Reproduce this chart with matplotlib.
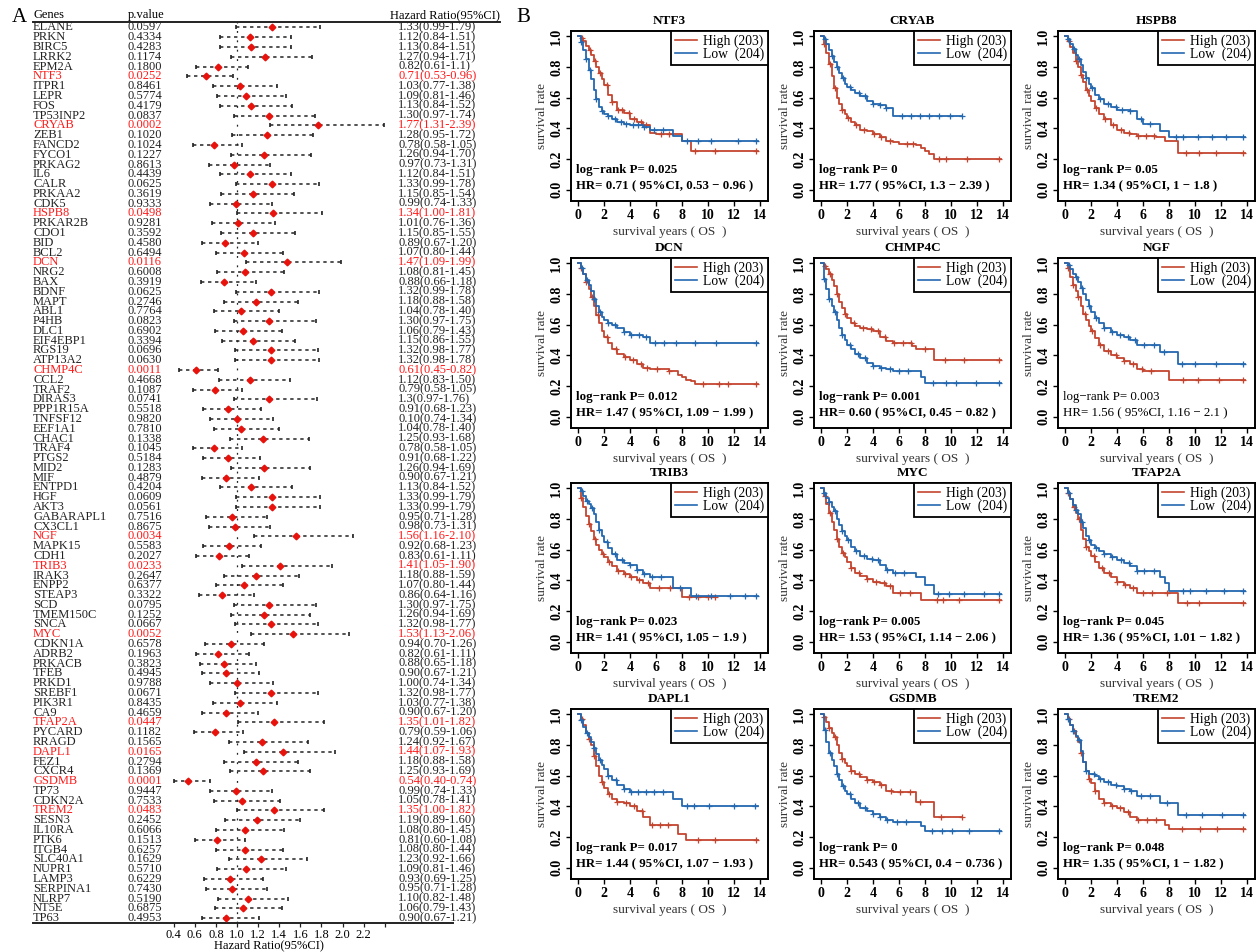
import numpy as np
import matplotlib
matplotlib.use('Agg')
import matplotlib.pyplot as plt
import matplotlib.transforms as mtransforms

plt.rcParams['font.family'] = ['Liberation Serif', 'DejaVu Serif']

# ---------------- panel A : univariate cox table ----------------
genes = ['ELANE', 'PRKN', 'BIRC5', 'LRRK2', 'EPM2A', 'NTF3', 'ITPR1', 'LEPR', 'FOS', 'TP53INP2',
         'CRYAB', 'ZEB1', 'FANCD2', 'FYCO1', 'PRKAG2', 'IL6', 'CALR', 'PRKAA2', 'CDK5', 'HSPB8',
         'PRKAR2B', 'CDO1', 'BID', 'BCL2', 'DCN', 'NRG2', 'BAX', 'BDNF', 'MAPT', 'ABL1',
         'P4HB', 'DLC1', 'EIF4EBP1', 'RGS19', 'ATP13A2', 'CHMP4C', 'CCL2', 'TRAF2', 'DIRAS3', 'PPP1R15A',
         'TNFSF12', 'EEF1A1', 'CHAC1', 'TRAF4', 'PTGS2', 'MID2', 'MIF', 'ENTPD1', 'HGF', 'AKT3',
         'GABARAPL1', 'CX3CL1', 'NGF', 'MAPK15', 'CDH1', 'TRIB3', 'IRAK3', 'ENPP2', 'STEAP3', 'SCD',
         'TMEM150C', 'SNCA', 'MYC', 'CDKN1A', 'ADRB2', 'PRKACB', 'TFEB', 'PRKD1', 'SREBF1', 'PIK3R1',
         'CA9', 'TFAP2A', 'PYCARD', 'RRAGD', 'DAPL1', 'FEZ1', 'CXCR4', 'GSDMB', 'TP73', 'CDKN2A',
         'TREM2', 'SESN3', 'IL10RA', 'PTK6', 'ITGB4', 'SLC40A1', 'NUPR1', 'LAMP3', 'SERPINA1', 'NLRP7',
         'NT5E', 'TP63']

p_values = ['0.0597', '0.4334', '0.4283', '0.1174', '0.1800', '0.0252', '0.8461', '0.5774', '0.4179', '0.0837',
            '0.0002', '0.1020', '0.1024', '0.1227', '0.8613', '0.4439', '0.0625', '0.3619', '0.9333', '0.0498',
            '0.9281', '0.3592', '0.4580', '0.6494', '0.0116', '0.6008', '0.3919', '0.0625', '0.2746', '0.7764',
            '0.0823', '0.6902', '0.3394', '0.0696', '0.0630', '0.0011', '0.4668', '0.1087', '0.0741', '0.5518',
            '0.9820', '0.7810', '0.1338', '0.1045', '0.5184', '0.1283', '0.4879', '0.4204', '0.0609', '0.0561',
            '0.7516', '0.8675', '0.0034', '0.5583', '0.2027', '0.0233', '0.2647', '0.6377', '0.3322', '0.0795',
            '0.1252', '0.0667', '0.0052', '0.6578', '0.1963', '0.3823', '0.4945', '0.9788', '0.0671', '0.8435',
            '0.4659', '0.0447', '0.1182', '0.1565', '0.0165', '0.2794', '0.1369', '0.0001', '0.9447', '0.7533',
            '0.0483', '0.2452', '0.6066', '0.1513', '0.6257', '0.1629', '0.5710', '0.6229', '0.7430', '0.5190',
            '0.6875', '0.4953']

hr = [1.33, 1.12, 1.13, 1.27, 0.82, 0.71, 1.03, 1.09, 1.13, 1.30,
      1.77, 1.28, 0.78, 1.26, 0.97, 1.12, 1.33, 1.15, 0.99, 1.34,
      1.01, 1.15, 0.89, 1.07, 1.47, 1.08, 0.88, 1.32, 1.18, 1.04,
      1.30, 1.06, 1.15, 1.32, 1.32, 0.61, 1.12, 0.79, 1.30, 0.91,
      1.00, 1.04, 1.25, 0.78, 0.91, 1.26, 0.90, 1.13, 1.33, 1.33,
      0.95, 0.98, 1.56, 0.92, 0.83, 1.41, 1.18, 1.07, 0.86, 1.30,
      1.26, 1.32, 1.53, 0.94, 0.82, 0.88, 0.90, 1.00, 1.32, 1.03,
      0.90, 1.35, 0.79, 1.24, 1.44, 1.18, 1.25, 0.54, 0.99, 1.05,
      1.35, 1.19, 1.08, 0.81, 1.08, 1.23, 1.09, 0.93, 0.95, 1.10,
      1.06, 0.90]

ci_low = [0.99, 0.84, 0.84, 0.94, 0.61, 0.53, 0.77, 0.81, 0.84, 0.97,
          1.31, 0.95, 0.58, 0.94, 0.73, 0.84, 0.99, 0.85, 0.74, 1.00,
          0.76, 0.85, 0.67, 0.80, 1.09, 0.81, 0.66, 0.99, 0.88, 0.78,
          0.97, 0.79, 0.86, 0.98, 0.98, 0.45, 0.83, 0.58, 0.97, 0.68,
          0.74, 0.78, 0.93, 0.58, 0.68, 0.94, 0.67, 0.84, 0.99, 0.99,
          0.71, 0.73, 1.16, 0.68, 0.61, 1.05, 0.88, 0.80, 0.64, 0.97,
          0.94, 0.98, 1.13, 0.70, 0.61, 0.65, 0.67, 0.74, 0.98, 0.77,
          0.67, 1.01, 0.59, 0.92, 1.07, 0.88, 0.93, 0.40, 0.74, 0.78,
          1.00, 0.89, 0.80, 0.60, 0.80, 0.92, 0.81, 0.69, 0.71, 0.82,
          0.79, 0.67]

ci_high = [1.79, 1.51, 1.51, 1.71, 1.10, 0.96, 1.38, 1.46, 1.52, 1.74,
           2.39, 1.72, 1.05, 1.70, 1.31, 1.51, 1.78, 1.54, 1.33, 1.81,
           1.36, 1.55, 1.20, 1.44, 1.99, 1.45, 1.18, 1.78, 1.58, 1.40,
           1.75, 1.43, 1.55, 1.77, 1.78, 0.82, 1.50, 1.05, 1.76, 1.23,
           1.34, 1.40, 1.68, 1.05, 1.22, 1.69, 1.21, 1.52, 1.79, 1.79,
           1.28, 1.31, 2.10, 1.23, 1.11, 1.90, 1.59, 1.44, 1.16, 1.75,
           1.69, 1.77, 2.06, 1.26, 1.11, 1.18, 1.21, 1.34, 1.77, 1.38,
           1.20, 1.82, 1.06, 1.67, 1.93, 1.58, 1.69, 0.74, 1.33, 1.41,
           1.82, 1.60, 1.45, 1.08, 1.44, 1.66, 1.46, 1.25, 1.28, 1.48,
           1.43, 1.21]

# labels printed differently from the default format in the original table
hr_text_exceptions = {'EPM2A': '0.82(0.61-1.1)', 'DIRAS3': '1.3(0.97-1.76)',
                      'TNFSF12': '0.10(0.74-1.34)'}

forest_ticks = [0.4, 0.6, 0.8, 1.0, 1.2, 1.4, 1.6, 1.8, 2.0, 2.2, 2.4]
forest_ticklabels = ['0.4', '0.6', '0.8', '1.0', '1.2', '1.4', '1.6', '1.8', '2.0', '2.2', '']

# ---------------- panel B : Kaplan-Meier curves ----------------
km_genes = ['NTF3', 'CRYAB', 'HSPB8', 'DCN', 'CHMP4C', 'NGF',
            'TRIB3', 'MYC', 'TFAP2A', 'DAPL1', 'GSDMB', 'TREM2']
km_logrank = ['0.025', '0', '0.05', '0.012', '0.001', '0.003',
              '0.023', '0.005', '0.045', '0.017', '0', '0.048']
km_hr = ['0.71 ( 95%CI, 0.53 \u2212 0.96 )', '1.77 ( 95%CI, 1.3 \u2212 2.39 )',
         '1.34 ( 95%CI, 1 \u2212 1.8 )', '1.47 ( 95%CI, 1.09 \u2212 1.99 )',
         '0.60 ( 95%CI, 0.45 \u2212 0.82 )', '1.56 ( 95%CI, 1.16 \u2212 2.1 )',
         '1.41 ( 95%CI, 1.05 \u2212 1.9 )', '1.53 ( 95%CI, 1.14 \u2212 2.06 )',
         '1.36 ( 95%CI, 1.01 \u2212 1.82 )', '1.44 ( 95%CI, 1.07 \u2212 1.93 )',
         '0.543 ( 95%CI, 0.4 \u2212 0.736 )', '1.35 ( 95%CI, 1 \u2212 1.82 )']
km_bold_text = [True, True, True, True, True, False, True, True, True, True, True, True]

# survival read at these times (years), step holds until next time
km_time = [0, 0.2, 0.4, 0.6, 0.8, 1.0, 1.2, 1.4, 1.6, 1.8, 2.0, 2.3, 2.6, 3.0, 3.5,
           4.0, 4.5, 5.0, 5.5, 6.0, 7.0, 7.3, 7.7, 8.0, 8.3, 8.7, 9.0, 10.5, 10.8, 13.8]
nan = float('nan')

km_high = {
    'NTF3':   [1.0, .99, .97, .94, .91, .88, .84, .80, .76, .72, .68, .62, .57, .52, .50,
               .46, .44, .42, .37, .36, .36, .36, .36, .32, .32, .25, .25, .25, .25, .25],
    'CRYAB':  [1.0, .95, .89, .82, .74, .66, .60, .56, .52, .49, .47, .44, .42, .39, .38,
               .36, .34, .32, .31, .30, .30, .29, .27, .25, .23, .20, .20, .20, .20, .20],
    'HSPB8':  [1.0, .97, .93, .89, .84, .80, .75, .70, .65, .61, .58, .53, .49, .46, .42,
               .39, .37, .36, .35, .35, .34, .34, .32, .32, .32, .24, .24, .24, .24, .24],
    'DCN':    [1.0, .97, .93, .88, .83, .78, .72, .66, .61, .56, .52, .48, .44, .41, .39,
               .37, .34, .32, .31, .31, .30, .30, .27, .26, .24, .23, .21, .21, .21, .21],
    'CHMP4C': [1.0, .98, .96, .93, .89, .85, .80, .75, .71, .67, .64, .61, .59, .58, .57,
               .56, .52, .49, .48, .48, .46, .44, .44, .44, .44, .37, .37, .37, .37, .37],
    'NGF':    [1.0, .97, .91, .86, .82, .78, .72, .67, .63, .59, .56, .51, .47, .43, .40,
               .38, .36, .34, .31, .30, .30, .30, .30, .24, .24, .24, .24, .24, .24, .24],
    'TRIB3':  [1.0, .94, .88, .82, .77, .72, .67, .63, .60, .57, .55, .52, .49, .46, .44,
               .42, .40, .38, .35, .35, .35, .35, .35, .29, .29, .29, .29, .29, nan, nan],
    'MYC':    [1.0, .95, .90, .84, .78, .73, .67, .62, .58, .55, .52, .48, .45, .43, .41,
               .39, .38, .36, .32, .32, .32, .32, .27, .27, .27, .27, .27, .27, .27, .27],
    'TFAP2A': [1.0, .97, .93, .88, .84, .80, .73, .67, .62, .59, .56, .52, .48, .45, .42,
               .39, .37, .35, .32, .32, .32, .32, .32, .32, .32, .25, .25, .25, .25, .25],
    'DAPL1':  [1.0, .97, .93, .88, .84, .80, .73, .66, .60, .56, .52, .48, .45, .43, .42,
               .40, .37, .33, .28, .28, .28, .28, .22, .22, .18, .18, .18, .18, .18, .18],
    'GSDMB':  [1.0, .98, .95, .91, .88, .85, .80, .75, .71, .68, .66, .63, .61, .59, .57,
               .56, .54, .50, .49, .49, .49, .43, .43, .43, .43, .33, .33, .33, .33, nan],
    'TREM2':  [1.0, .97, .93, .89, .85, .82, .75, .69, .63, .58, .55, .50, .45, .42, .40,
               .39, .36, .33, .31, .31, .31, .31, .28, .25, .25, .25, .25, .25, .25, .25],
}

km_low = {
    'NTF3':   [1.0, .96, .91, .85, .78, .72, .65, .59, .54, .51, .49, .48, .46, .44, .43,
               .42, .42, .41, .39, .39, .39, .35, .35, .32, .32, .32, .32, .32, .32, .32],
    'CRYAB':  [1.0, .98, .95, .91, .87, .83, .80, .76, .73, .69, .67, .65, .63, .61, .58,
               .56, .55, .53, .48, .48, .48, .48, .48, .48, .48, .48, .48, .48, .48, nan],
    'HSPB8':  [1.0, .98, .95, .92, .88, .85, .81, .77, .73, .69, .66, .62, .59, .56, .54,
               .52, .52, .51, .46, .43, .43, .38, .38, .34, .34, .34, .34, .34, .34, .34],
    'DCN':    [1.0, .97, .93, .89, .86, .82, .77, .72, .68, .65, .63, .61, .60, .58, .55,
               .53, .53, .52, .48, .48, .48, .48, .48, .48, .48, .48, .48, .48, .48, .48],
    'CHMP4C': [1.0, .90, .83, .77, .72, .68, .63, .58, .53, .50, .47, .44, .41, .38, .35,
               .33, .32, .31, .30, .30, .30, .30, .26, .22, .22, .22, .22, .22, .22, .22],
    'NGF':    [1.0, .99, .96, .93, .91, .88, .84, .80, .76, .72, .68, .64, .61, .58, .55,
               .53, .52, .50, .47, .47, .47, .42, .42, .42, .42, .34, .34, .34, .34, .34],
    'TRIB3':  [1.0, .98, .95, .92, .90, .87, .83, .78, .73, .69, .65, .61, .57, .53, .51,
               .50, .47, .44, .42, .42, .42, .35, .35, .35, .35, .30, .30, .30, .30, .30],
    'MYC':    [1.0, .97, .94, .91, .88, .85, .80, .76, .72, .69, .66, .62, .59, .56, .54,
               .53, .50, .47, .45, .45, .45, .42, .42, .37, .37, .31, .31, .31, .31, .31],
    'TFAP2A': [1.0, .97, .93, .89, .86, .83, .78, .74, .69, .66, .63, .61, .59, .57, .55,
               .53, .51, .49, .46, .46, .46, .42, .38, .33, .33, .33, .33, .33, .33, .33],
    'DAPL1':  [1.0, .96, .92, .88, .85, .82, .78, .74, .70, .67, .64, .60, .57, .54, .51,
               .49, .49, .49, .49, .49, .49, .45, .45, .40, .40, .40, .40, .40, .40, .40],
    'GSDMB':  [1.0, .90, .82, .75, .70, .66, .61, .57, .53, .50, .48, .45, .42, .39, .37,
               .35, .33, .31, .30, .30, .30, .30, .27, .24, .24, .24, .24, .24, .24, .24],
    'TREM2':  [1.0, .97, .93, .89, .86, .83, .76, .69, .63, .61, .61, .60, .58, .56, .54,
               .53, .51, .50, .47, .47, .47, .42, .42, .42, .42, .34, .34, .34, .34, .34],
}

# censored follow-up times (years) drawn as "+"
censor_high = {
    'NTF3':   [0.3, 0.9, 1.3, 1.7, 2.2, 2.6, 3.1, 3.4, 3.9, 4.3, 4.8, 5.2, 6.4, 7.0, 9.0, 10.5, 13.7],
    'CRYAB':  [0.2, 0.7, 1.1, 1.6, 2.1, 2.7, 3.3, 4.1, 4.6, 5.3, 6.6, 7.1, 9.1, 9.6, 11.2, 13.7],
    'HSPB8':  [0.3, 0.8, 1.2, 1.7, 2.4, 3.1, 3.7, 4.3, 4.9, 5.6, 6.2, 6.8, 9.3, 10.3, 11.6, 13.7],
    'DCN':    [0.2, 0.6, 1.1, 1.5, 2.2, 2.9, 3.6, 4.2, 4.8, 5.3, 6.1, 7.0, 9.6, 10.8, 11.5, 13.7],
    'CHMP4C': [0.3, 0.7, 1.2, 1.8, 2.5, 3.2, 3.8, 4.4, 4.9, 5.6, 6.3, 6.9, 8.0, 9.5, 11.0, 13.7],
    'NGF':    [0.2, 0.6, 1.0, 1.5, 2.1, 2.7, 3.3, 3.9, 4.5, 5.2, 5.9, 6.6, 9.1, 10.2, 11.8, 13.7],
    'TRIB3':  [0.2, 0.8, 1.3, 1.9, 2.4, 3.1, 3.6, 4.1, 4.7, 5.4, 6.2, 7.1, 8.5, 9.2, 10.0, 10.5],
    'MYC':    [0.3, 0.7, 1.2, 1.7, 2.3, 2.9, 3.5, 4.2, 4.8, 5.3, 6.1, 6.8, 8.9, 9.4, 10.6, 13.7],
    'TFAP2A': [0.2, 0.7, 1.1, 1.6, 2.2, 2.8, 3.4, 4.0, 4.6, 5.2, 6.0, 6.7, 7.8, 9.4, 10.3, 13.7],
    'DAPL1':  [0.3, 0.8, 1.2, 1.8, 2.4, 3.0, 3.7, 4.3, 4.9, 5.7, 6.3, 6.9, 9.2, 10.5, 13.7],
    'GSDMB':  [0.2, 0.6, 1.1, 1.6, 2.3, 2.9, 3.5, 4.1, 4.6, 5.4, 6.1, 6.8, 7.6, 9.2, 10.8],
    'TREM2':  [0.3, 0.7, 1.2, 1.8, 2.3, 3.0, 3.6, 4.2, 4.8, 5.6, 6.3, 7.0, 9.0, 10.4, 11.7, 13.7],
}

censor_low = {
    'NTF3':   [0.2, 0.6, 0.9, 1.4, 1.8, 2.3, 2.8, 3.3, 3.7, 4.2, 4.6, 5.1, 5.8, 6.5, 8.4, 9.2, 10.2, 12.3, 13.7],
    'CRYAB':  [0.3, 0.8, 1.2, 1.7, 2.2, 2.9, 3.4, 4.0, 4.5, 5.0, 6.2, 6.9, 7.6, 8.3, 9.1, 9.9, 10.8],
    'HSPB8':  [0.2, 0.7, 1.1, 1.6, 2.1, 2.7, 3.3, 3.9, 4.4, 5.0, 5.8, 6.5, 8.5, 9.1, 10.2, 11.3, 12.4, 13.7],
    'DCN':    [0.3, 0.7, 1.2, 1.7, 2.3, 2.8, 3.5, 4.1, 4.7, 5.2, 5.9, 6.6, 7.5, 9.0, 10.6, 13.7],
    'CHMP4C': [0.2, 0.6, 1.1, 1.6, 2.2, 2.8, 3.4, 4.0, 4.6, 5.3, 6.0, 6.7, 8.6, 9.6, 10.4, 11.9, 13.7],
    'NGF':    [0.3, 0.8, 1.3, 1.8, 2.4, 3.0, 3.6, 4.2, 4.8, 5.4, 6.1, 6.8, 7.6, 9.0, 10.0, 11.6, 13.7],
    'TRIB3':  [0.3, 0.7, 1.1, 1.6, 2.2, 2.8, 3.4, 4.0, 4.5, 5.1, 5.7, 6.4, 7.8, 9.1, 10.2, 11.7, 12.8, 13.7],
    'MYC':    [0.2, 0.6, 1.1, 1.6, 2.1, 2.7, 3.3, 3.9, 4.4, 5.1, 5.7, 6.4, 9.0, 9.8, 11.0, 12.5, 13.7],
    'TFAP2A': [0.3, 0.8, 1.3, 1.8, 2.4, 3.0, 3.6, 4.3, 4.9, 5.5, 6.1, 6.8, 9.1, 9.6, 10.8, 12.2, 13.7],
    'DAPL1':  [0.2, 0.7, 1.2, 1.7, 2.3, 2.9, 3.5, 4.1, 4.6, 5.2, 5.8, 6.5, 8.4, 8.9, 10.1, 12.0, 13.6],
    'GSDMB':  [0.3, 0.7, 1.2, 1.7, 2.2, 2.8, 3.4, 4.0, 4.5, 5.1, 5.8, 6.5, 8.5, 9.3, 10.1, 11.4, 13.7],
    'TREM2':  [0.2, 0.6, 1.1, 1.6, 2.2, 2.7, 3.3, 3.9, 4.5, 5.1, 5.8, 6.5, 7.8, 9.3, 10.5, 12.1, 13.7],
}

RED_TXT = '#ff1a1a'
KM_RED = '#c4452f'
KM_BLUE = '#2468b0'

W, H = 1259, 952
fig = plt.figure(figsize=(W / 100, H / 100), dpi=100)


def px_axes(left, top, width, height):
    return fig.add_axes([left / W, 1 - (top + height) / H, width / W, height / H])


# ---------------- draw panel A ----------------
n = len(genes)
axA = px_axes(33, 22, 467, 901)
x_left, x_right = 1 - 204 / 105.5, 1 + 263 / 105.5
axA.set_xlim(x_left, x_right)
axA.set_ylim(n - 1 + 0.5, -0.56)
for s in ['left', 'right', 'bottom']:
    axA.spines[s].set_visible(False)
axA.spines['top'].set_linewidth(1.4)
axA.spines['top'].set_color('#222222')
axA.set_yticks([])
axA.set_xticks(forest_ticks)
axA.set_xticklabels(forest_ticklabels, fontsize=9)
axA.tick_params(axis='x', length=3, width=0.9, pad=1.5, color='#222222')

# bottom rule only runs under the first columns
axA.plot([0, (453 - 33) / 467], [0, 0], transform=axA.transAxes,
         color='#222222', lw=1.4, clip_on=False)
fig.text((33 + (1.3 - x_left) * 105.5) / W, 0.5 / H, 'Hazard Ratio(95%CI)',
         ha='center', va='bottom', fontsize=9)

# reference line at HR = 1
axA.axvline(1.0, color='#222222', lw=0.9, ls=(0, (1.5, 6)))

tr = mtransforms.blended_transform_factory(axA.transAxes, axA.transData)
head_y = -1.25
axA.text(0.0, head_y, 'Genes', transform=tr, ha='left', va='center', fontsize=9)
axA.text((128 - 33) / 467, head_y, 'p.value', transform=tr, ha='left', va='center', fontsize=9)
axA.text(1.0, head_y, 'Hazard Ratio(95%CI)', transform=tr, ha='right', va='center', fontsize=9)

for i, g in enumerate(genes):
    sig = float(p_values[i]) < 0.05
    col = RED_TXT if sig else '#222222'
    label = hr_text_exceptions.get(g, '%.2f(%.2f-%.2f)' % (hr[i], ci_low[i], ci_high[i]))
    axA.text(0.0, i, g, transform=tr, ha='left', va='center', fontsize=9, color=col)
    axA.text((128 - 33) / 467, i, p_values[i], transform=tr, ha='left', va='center',
             fontsize=9, color=col)
    axA.text((398 - 33) / 467, i, label, transform=tr, ha='left', va='center',
             fontsize=9, color=col)
    axA.plot([ci_low[i], ci_high[i]], [i, i], color='#222222', lw=1.1, ls=(0, (2.2, 2.4)))
    axA.plot([ci_low[i], ci_high[i]], [i, i], ls='none', marker='|', ms=3.5,
             mew=1.2, color='#222222')
    axA.plot(hr[i], i, marker='D', ms=3.4, color='#e8120c', mec='#e8120c')

fig.text(12 / W, 1 - 18 / H, 'A', fontsize=15, ha='left', va='center')
fig.text(516 / W, 1 - 18 / H, 'B', fontsize=15, ha='left', va='center')

# ---------------- draw panel B ----------------
col_left = [571, 814, 1058]
row_top = [31, 258, 483, 709]
t_grid = np.array(km_time)


def draw_curve(ax, values, censor, color):
    s = np.array(values, dtype=float)
    ok = ~np.isnan(s)
    t, s = t_grid[ok], s[ok]
    ax.step(t, s, where='post', color=color, lw=1.3)
    c = np.array(censor)
    c = c[c <= t[-1]]
    idx = np.searchsorted(t, c, side='right') - 1
    ax.plot(c, s[idx], ls='none', marker='+', ms=4.5, mew=0.9, color=color)


for k, g in enumerate(km_genes):
    r, c = divmod(k, 3)
    ax = px_axes(col_left[c], row_top[r], 197, 170)
    draw_curve(ax, km_high[g], censor_high[g], KM_RED)
    draw_curve(ax, km_low[g], censor_low[g], KM_BLUE)
    ax.set_xlim(-0.55, 14.6)
    ax.set_ylim(-0.075, 1.035)
    ax.set_xticks(range(0, 15, 2))
    ax.set_yticks([0.0, 0.2, 0.4, 0.6, 0.8, 1.0])
    ax.set_yticklabels(['0.0', '0.2', '0.4', '0.6', '0.8', '1.0'], rotation=90, va='center')
    ax.tick_params(labelsize=10, length=3.5, width=1, pad=2)
    for lab in ax.get_xticklabels() + ax.get_yticklabels():
        lab.set_fontweight('bold')
    for s in ax.spines.values():
        s.set_linewidth(1.4)
    ax.set_title(g, fontsize=9.5, fontweight='bold', pad=5)
    ax.set_xlabel('survival years ( OS  )', fontsize=9.5, color='#333333', labelpad=3)
    ax.set_ylabel('survival rate', fontsize=9.5, color='#333333', labelpad=2)
    fw = 'bold' if km_bold_text[k] else 'normal'
    ax.text(-0.15, 0.125, 'log\u2212rank P= ' + km_logrank[k], fontsize=9.3,
            fontweight=fw, ha='left', va='center')
    ax.text(-0.15, 0.02, 'HR= ' + km_hr[k], fontsize=9.3, fontweight=fw,
            ha='left', va='center')
    leg = ax.legend([plt.Line2D([], [], color=KM_RED, lw=1.2),
                     plt.Line2D([], [], color=KM_BLUE, lw=1.2)],
                    ['High (203)', 'Low  (204)'], loc='upper right', fontsize=9.8,
                    borderaxespad=0, fancybox=False, framealpha=1, handlelength=1.6,
                    handletextpad=0.5, borderpad=0.25, labelspacing=0.0)
    leg.get_frame().set_edgecolor('black')
    leg.get_frame().set_linewidth(1.3)

fig.savefig('out.png', dpi=100)
